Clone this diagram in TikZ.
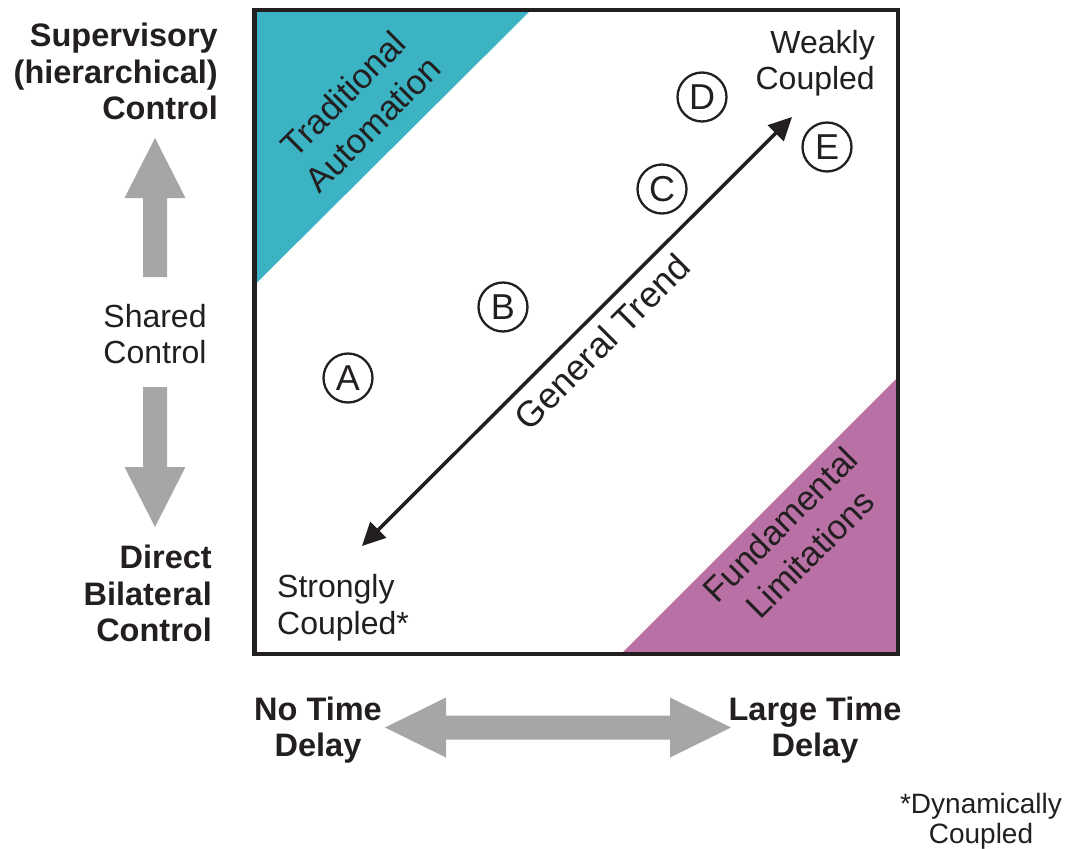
\documentclass[tikz,border=0pt]{standalone}
\usepackage{fontspec}
\setmainfont{Liberation Sans}
\usetikzlibrary{arrows.meta}

\definecolor{ink}{RGB}{35,31,32}
\definecolor{autoteal}{RGB}{59,179,195}
\definecolor{limitmauve}{RGB}{185,113,165}
\definecolor{arrowgray}{RGB}{166,166,166}

\begin{document}
\begin{tikzpicture}[x=1pt,y=-1pt,
  every node/.style={text=ink, inner sep=0pt},
  lbl/.style={font=\fontsize{32}{36.5}\selectfont},
  boldlbl/.style={font=\fontsize{32.5}{36.5}\selectfont\bfseries},
  diag/.style={rotate=45, align=center, font=\fontsize{34.5}{42}\selectfont},
  pointlabel/.style={circle, draw=ink, line width=2.3pt, minimum size=49pt,
    font=\fontsize{36}{36}\selectfont},
  grayarrow/.style={fill=arrowgray},
  trend/.style={draw=ink, line width=3.5pt,
    {Triangle[length=23pt,width=22pt]}-{Triangle[length=23pt,width=22pt]}}
]
\useasboundingbox (0,0) rectangle (1069,849);

% coloured corner regions of the chart
\fill[autoteal] (254.5,10) -- (531,10) -- (254.5,285) -- cycle;
\fill[limitmauve] (898,377) -- (898,654) -- (621,654) -- cycle;

% chart frame
\draw[ink, line width=4.5pt] (254.5,10) rectangle (898,654);

% vertical axis block arrows
\fill[grayarrow] (155,138) -- (185.5,198) -- (167,198) -- (167,277)
  -- (143,277) -- (143,198) -- (124.5,198) -- cycle;
\fill[grayarrow] (155,527) -- (185.5,467) -- (167,467) -- (167,387)
  -- (143,387) -- (143,467) -- (124.5,467) -- cycle;

% horizontal axis block arrow
\fill[grayarrow] (385,727.5) -- (446,697.5) -- (446,715.5) -- (670,715.5)
  -- (670,697.5) -- (731,727.5) -- (670,757.5) -- (670,739.5)
  -- (446,739.5) -- (446,757.5) -- cycle;

% axis labels
\node[boldlbl, align=right, anchor=east] (supervisory) at (218,71.5)
  {Supervisory\\(hierarchical)\\Control};
\node[lbl, align=center] (shared) at (155,334) {Shared\\Control};
\node[boldlbl, align=right, anchor=east] (direct) at (212,593.7)
  {Direct\\Bilateral\\Control};
\node[boldlbl, align=center] (notime) at (318,730) {No Time\\Delay};
\node[boldlbl, align=center] (largetime) at (815,730) {Large Time\\Delay};

% corner labels inside the chart
\node[lbl, align=right, anchor=east] (weakly) at (875,63) {Weakly\\Coupled};
\node[lbl, align=left, anchor=west] (strongly) at (277,607.5) {Strongly\\Coupled*};
\node[font=\fontsize{28}{30}\selectfont, align=center] (dynamically) at (981,821)
  {*Dynamically\\Coupled};

% region labels
\node[diag] (tradition) at (358,109) {Traditional\\Automation};
\node[diag] (fundamental) at (795,539) {Fundamental\\Limitations};

% trend arrow and its label
\coordinate (trendlow) at (362,546);
\coordinate (trendhigh) at (792,117);
\draw[trend] (trendlow) -- (trendhigh);
\node[rotate=45, font=\fontsize{36}{36}\selectfont] (trendlabel) at (602,342)
  {General Trend};

% circled points
\node[pointlabel] (A) at (348,378) {A};
\node[pointlabel] (B) at (503,307) {B};
\node[pointlabel] (C) at (662,189) {C};
\node[pointlabel] (D) at (702,97) {D};
\node[pointlabel] (E) at (827,147) {E};
\end{tikzpicture}
\end{document}
